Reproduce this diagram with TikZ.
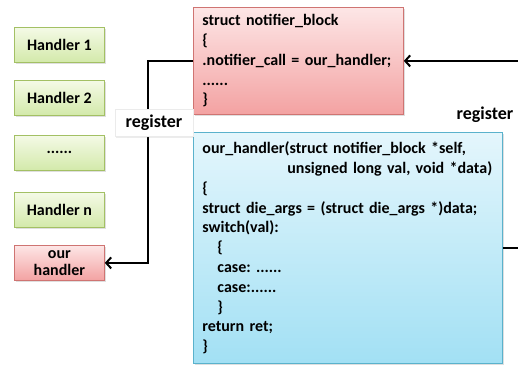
\documentclass[tikz,border=0pt]{standalone}
\usepackage{fontspec}
\setmainfont{Carlito}
\usetikzlibrary{arrows.meta,shadows}
\definecolor{gtop}{HTML}{F4FAE6}
\definecolor{gbot}{HTML}{D3E9AA}
\definecolor{gline}{HTML}{A3C064}
\definecolor{rtop}{HTML}{FDE6E6}
\definecolor{rbot}{HTML}{F3A2A2}
\definecolor{rline}{HTML}{CF7472}
\definecolor{btop}{HTML}{E4F6FC}
\definecolor{bbot}{HTML}{A2E0F4}
\definecolor{bline}{HTML}{5AB2CC}
\tikzset{
  box/.style={rectangle, line width=0.8pt, anchor=north west, font=\bfseries,
    drop shadow={shadow xshift=1.5pt, shadow yshift=-1.5pt, opacity=0.25}},
  handler/.style={box, top color=gtop, bottom color=gbot, draw=gline,
    minimum width=90pt, minimum height=35pt, font=\fontsize{16}{18}\selectfont\bfseries},
  ourbox/.style={box, top color=rtop, bottom color=rbot, draw=rline,
    minimum width=90pt, minimum height=35pt, align=center, inner sep=0pt,
    font=\fontsize{16}{18}\selectfont\bfseries},
  codebox/.style={box, align=left, inner xsep=9pt, inner ysep=0pt,
    font=\fontsize{16}{19.8}\selectfont\bfseries\frenchspacing},
  reglabel/.style={font=\fontsize{18}{20}\selectfont\bfseries},
  conn/.style={line width=2pt, -{Straight Barb[length=5pt,width=11pt,line width=2pt]}},
}
\begin{document}
\begin{tikzpicture}[x=1pt, y=-1pt]
\useasboundingbox (0,0) rectangle (518,364);
\clip (0,0) rectangle (518,364);

% list of registered handlers
\node[handler] (h1) at (14,27) {Handler 1};
\node[handler] (h2) at (14,80) {Handler 2};
\node[handler] (hd) at (14,135) {......};
\node[handler] (hn) at (14,192) {Handler n};
\node[ourbox]  (ours) at (14,245) {our\\[-1pt]handler};

% notifier block
\node[codebox, top color=rtop, bottom color=rbot, draw=rline,
      minimum width=210pt, minimum height=107pt, text width=192pt] (nb) at (193,7)
  {struct notifier\_block\\
   \{\\
   \mbox{.notifier\_call = our\_handler;}\\
   ......\\
   \}};

% handler body
\node[codebox, top color=btop, bottom color=bbot, draw=bline,
      minimum width=309pt, minimum height=231pt, text width=291pt] (oh) at (193,132)
  {\mbox{our\_handler(struct notifier\_block *self,}\\
   \mbox{\hspace*{85pt}unsigned long val, void *data)}\\
   \{\\
   \mbox{struct die\_args = (struct die\_args *)data;}\\
   switch(val):\\
   \hspace*{15pt}\{\\
   \hspace*{15pt}case: ......\\
   \hspace*{15pt}case:......\\
   \hspace*{15pt}\}\\
   return ret;\\
   \}};

% connectors
\coordinate (kx) at (148,0);
\coordinate (rx) at (540,0);
\draw[conn] (nb.west) -- (nb.west -| kx) |- (ours.east);
\draw[conn] (oh.east) -- (oh.east -| rx) |- (nb.east);

% labels
\node[rectangle, fill=white, draw=black!8, minimum width=78pt, minimum height=27pt, reglabel,
      drop shadow={shadow xshift=0.5pt, shadow yshift=-1pt, opacity=0.15}]
  (reg1) at (154,123) {register};
\node[reglabel] (reg2) at (485,115) {register};
\end{tikzpicture}
\end{document}
